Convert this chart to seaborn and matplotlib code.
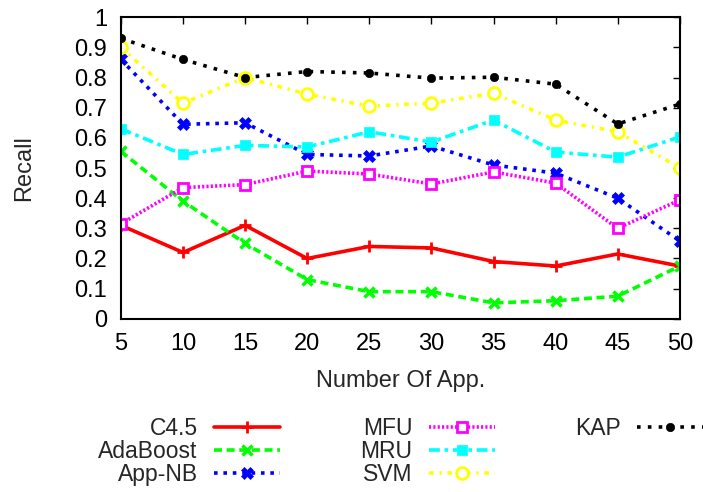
import matplotlib
matplotlib.use("Agg")
import matplotlib.pyplot as plt
import seaborn as sns
import pandas as pd
from matplotlib.lines import Line2D

sns.set_theme(style="white")
plt.rcParams['font.family'] = ['Liberation Sans', 'DejaVu Sans']

apps = [5, 10, 15, 20, 25, 30, 35, 40, 45, 50]
c45 = [0.31, 0.22, 0.31, 0.20, 0.24, 0.235, 0.19, 0.175, 0.215, 0.175]
adaboost = [0.555, 0.39, 0.25, 0.13, 0.09, 0.09, 0.053, 0.06, 0.075, 0.175]
appnb = [0.86, 0.645, 0.65, 0.545, 0.54, 0.573, 0.51, 0.483, 0.40, 0.258]
mfu = [0.315, 0.435, 0.445, 0.49, 0.48, 0.447, 0.487, 0.45, 0.30, 0.394]
mru = [0.63, 0.545, 0.575, 0.57, 0.62, 0.586, 0.659, 0.553, 0.536, 0.603]
svm = [0.90, 0.715, 0.80, 0.745, 0.705, 0.715, 0.748, 0.659, 0.62, 0.50]
kap = [0.93, 0.86, 0.80, 0.82, 0.815, 0.798, 0.801, 0.778, 0.646, 0.712]

series = {"C4.5": c45, "AdaBoost": adaboost, "App-NB": appnb,
          "MFU": mfu, "MRU": mru, "SVM": svm, "KAP": kap}
styles = {
    "C4.5": dict(color="#ff0000", ls="-", marker="+", ms=8, mew=2),
    "AdaBoost": dict(color="#00ff00", ls=(0, (2.2, 1.3)), marker="x", ms=7, mew=2.5),
    "App-NB": dict(color="#0000ff", ls=(0, (1, 1.6)), marker="X", ms=8, mew=0.5),
    "MFU": dict(color="#ff00ff", ls=(0, (0.6, 0.6)), marker="s", ms=7.5, mew=2,
                mfc="white"),
    "MRU": dict(color="#00ffff", ls=(0, (3, 1.3, 1, 1.3)), marker="s", ms=7.5, mew=0.5),
    "SVM": dict(color="#ffff00", ls=(0, (1.3, 1.6, 0.6, 1.6)), marker="o", ms=8.5, mew=2,
                mfc="white"),
    "KAP": dict(color="#000000", ls=(0, (1, 2)), marker="o", ms=6, mew=0.5),
}

rows = []
for name, vals in series.items():
    for a, v in zip(apps, vals):
        rows.append({"app": a, "recall": v, "method": name})
df = pd.DataFrame(rows)

FS = 17
LFS = 16.5

fig = plt.figure(figsize=(7.03, 4.92), dpi=100)
ax = fig.add_axes([0.172, 0.352, 0.795, 0.613])

handles = []
for name in series:
    st = styles[name]
    sub = df[df["method"] == name]
    sns.lineplot(data=sub, x="app", y="recall", ax=ax, color=st["color"],
                 linewidth=2.6, legend=False)
    line = ax.lines[-1]
    line.set_linestyle(st["ls"])
    line.set_marker(st["marker"])
    line.set_markersize(st["ms"])
    line.set_markeredgewidth(st["mew"])
    line.set_markeredgecolor(st["color"])
    line.set_markerfacecolor(st.get("mfc", st["color"]))
    handles.append(line)

ax.set_xlim(5, 50)
ax.set_ylim(0, 1)
ax.set_xticks(apps)
ax.set_yticks([0, 0.1, 0.2, 0.3, 0.4, 0.5, 0.6, 0.7, 0.8, 0.9, 1])
ax.set_yticklabels(["0", "0.1", "0.2", "0.3", "0.4", "0.5", "0.6", "0.7", "0.8", "0.9", "1"])
ax.tick_params(direction="in", length=5, width=1, top=True, right=True,
               labelsize=FS, colors="black")
ax.tick_params(axis="y", pad=10)
ax.tick_params(axis="x", pad=10)
for s in ax.spines.values():
    s.set_visible(True)
    s.set_color("black")
    s.set_linewidth(1.5)
ax.set_xlabel("Number Of App.", fontsize=FS, labelpad=11)
ax.set_ylabel("Recall", fontsize=FS, labelpad=28)

blank = Line2D([], [], alpha=0)
leg_handles = handles + [blank, blank]
leg_labels = list(series.keys()) + ["", ""]
fig.legend(leg_handles, leg_labels, ncol=3, markerfirst=False, frameon=False,
           loc="upper left", bbox_to_anchor=(0.14, 0.152), fontsize=LFS,
           handlelength=2.9, columnspacing=3.5, labelspacing=0.0,
           handletextpad=0.7, borderaxespad=0, borderpad=0)

fig.savefig("out.png", dpi=100)
